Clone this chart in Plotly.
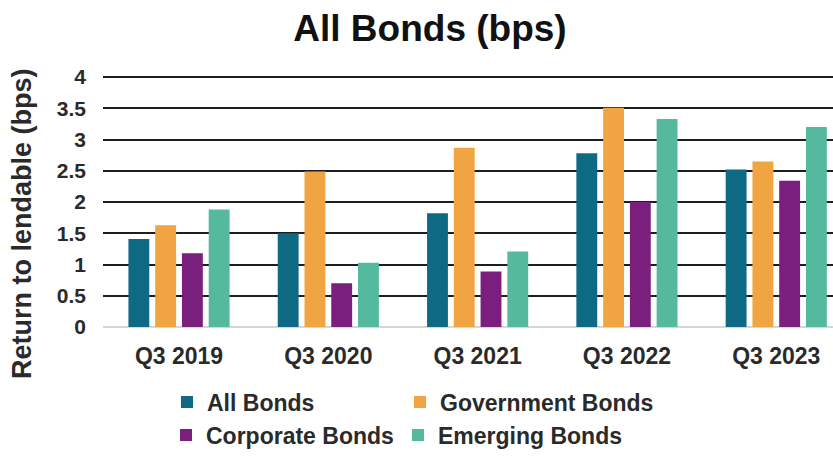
import plotly.graph_objects as go

# Quarterly return to lendable, in basis points
quarters = ["Q3 2019", "Q3 2020", "Q3 2021", "Q3 2022", "Q3 2023"]
all_bonds = [1.41, 1.50, 1.82, 2.78, 2.52]
government_bonds = [1.63, 2.49, 2.87, 3.51, 2.65]
corporate_bonds = [1.18, 0.70, 0.89, 2.00, 2.34]
emerging_bonds = [1.88, 1.03, 1.21, 3.33, 3.20]
y_ticks = [0, 0.5, 1, 1.5, 2, 2.5, 3, 3.5, 4]
y_tick_labels = ["0", "0.5", "1", "1.5", "2", "2.5", "3", "3.5", "4"]

W, H = 833, 461
Y_MAX = 4.05
ML, MR, MB = 103, 0, 134
MT = 77 - (Y_MAX - 4) * 250 / 4
PW, PH = W - ML - MR, H - MT - MB
FONT = "Liberation Sans, Arial, sans-serif"

series = [
    ("All Bonds", all_bonds, "#0e6a84", "legend", 167, 402),
    ("Government Bonds", government_bonds, "#f1a542", "legend2", 400, 402),
    ("Corporate Bonds", corporate_bonds, "#7a1f7e", "legend3", 166, 435),
    ("Emerging Bonds", emerging_bonds, "#55b99d", "legend4", 398, 435),
]

fig = go.Figure()
legends = {}
for name, vals, color, leg, lx, ly in series:
    fig.add_trace(go.Bar(
        x=list(range(len(quarters))), y=vals, name=name,
        marker=dict(color=color, line=dict(width=0)),
        legend=leg, showlegend=True,
    ))
    legends[leg] = dict(
        xref="container", yref="container",
        x=lx / W, y=1 - ly / H, xanchor="left", yanchor="middle",
        orientation="h", bgcolor="rgba(0,0,0,0)", borderwidth=0,
        font=dict(family=FONT, size=23, color="#2a2a2a", weight="bold"),
        itemclick=False, itemdoubleclick=False,
    )

fig.update_layout(
    width=W, height=H,
    margin=dict(l=ML, r=MR, t=MT, b=MB),
    paper_bgcolor="white", plot_bgcolor="white",
    showlegend=True,
    barmode="group", bargap=0.283, bargroupgap=0.22,
    title=dict(
        text="<b>All Bonds (bps)</b>",
        x=430 / W, xanchor="center", y=1 - 28 / H, yanchor="middle",
        font=dict(family=FONT, size=37, color="#111111"),
    ),
    xaxis=dict(
        range=[-0.509, 4.38],
        tickmode="array", tickvals=list(range(len(quarters))), ticktext=quarters,
        tickfont=dict(family=FONT, size=23, color="#2a2a2a", weight="bold"),
        ticklabelstandoff=13,
        showgrid=False, zeroline=False, showline=False, ticks="",
    ),
    yaxis=dict(
        range=[0, Y_MAX],
        tickmode="array", tickvals=y_ticks, ticktext=y_tick_labels,
        tickfont=dict(family=FONT, size=21, color="#2a2a2a", weight="bold"),
        ticklabelstandoff=16,
        showgrid=True, gridcolor="#1e1e1e", gridwidth=1.6,
        zeroline=True, zerolinecolor="#d6d6d6", zerolinewidth=1.5,
        showline=False, ticks="",
    ),
    annotations=[dict(
        text="<b>Return to lendable (bps)</b>",
        xref="paper", yref="paper",
        x=(22 - ML) / PW, y=(MT + PH - 224) / PH,
        xanchor="center", yanchor="middle", textangle=-90,
        showarrow=False,
        font=dict(family=FONT, size=27, color="#2a2a2a"),
    )],
    **legends,
)

fig.write_html("out.html")
